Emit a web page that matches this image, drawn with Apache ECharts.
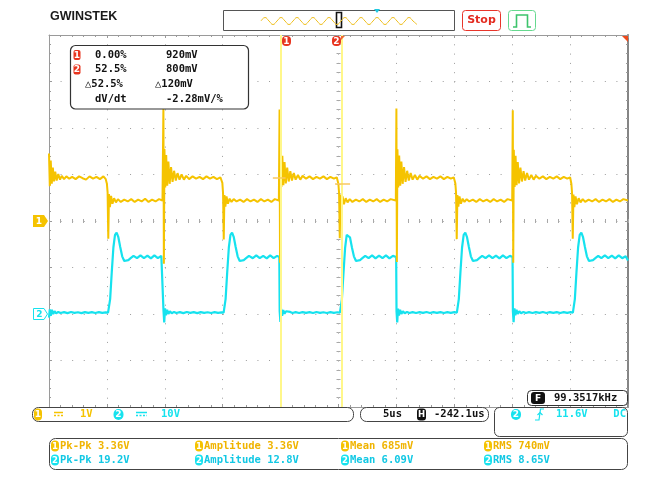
<!DOCTYPE html>
<html>
<head>
<meta charset="utf-8">
<script src="https://cdn.jsdelivr.net/npm/echarts@6/dist/echarts.min.js"></script>
<style>
html,body{margin:0;padding:0;background:#fff;}
#chart{width:662px;height:481px;}
</style>
</head>
<body>
<div id="chart"></div>
<script>
// ---- acquisition settings ----
const timeRange = [0, 50];          // us across 10 divisions (5 us/div)
const voltsPerDiv = [1, 10];        // CH1, CH2
const offsetDiv = [0, -2];          // ground marker position of each channel, in divisions

// ---- CH1 trace: [time us, volts] ----
const ch1Trace = [
  [0,1.45],[0.07,0.75],[0.15,1.3],[0.24,0.8],[0.33,1.15],[0.43,0.85],[0.54,1.06],[0.66,0.87],[0.8,1.01],[0.95,0.89],[1.1,0.97],[1.3,0.9],[1.5,0.96],[1.75,0.91],[2.0,0.95],[2.3,0.9],[2.6,0.96],[2.9,0.92],[3.2,0.89],[3.5,0.96],[3.8,0.91],[4.1,0.95],[4.4,0.9],[4.7,0.96],[4.9,0.9],
  [5.0,0.8],[5.06,0.62],[5.12,-0.38],[5.18,0.58],[5.26,0.3],[5.36,0.54],[5.48,0.37],[5.62,0.49],[5.78,0.4],[5.95,0.47],[6.2,0.41],[6.5,0.46],[6.8,0.42],[7.1,0.47],[7.4,0.41],[7.7,0.46],[8.0,0.42],[8.3,0.48],[8.6,0.41],[8.9,0.46],[9.2,0.42],[9.5,0.47],[9.8,0.44],
  [9.86,0.45],[9.88,2.45],[9.92,-0.92],[9.97,1.55],[10.04,0.72],[10.12,1.42],[10.21,0.76],[10.31,1.28],[10.42,0.8],[10.54,1.16],[10.67,0.84],[10.8,1.08],[10.95,0.87],[11.1,1.03],[11.27,0.89],[11.45,1.0],[11.65,0.89],[11.85,0.97],[12.1,0.9],[12.4,0.96],[12.7,0.91],[13.0,0.95],[13.3,0.9],[13.6,0.96],[13.9,0.91],[14.2,0.95],[14.5,0.9],[14.8,0.94],
  [14.97,0.82],[15.03,0.6],[15.09,-0.4],[15.15,0.56],[15.23,0.31],[15.33,0.53],[15.45,0.37],[15.6,0.48],[15.76,0.41],[15.95,0.47],[16.2,0.42],[16.5,0.46],[16.8,0.41],[17.1,0.47],[17.4,0.42],[17.7,0.46],[18.0,0.41],[18.3,0.47],[18.6,0.42],[18.9,0.46],[19.2,0.41],[19.5,0.47],[19.85,0.44],
  [19.89,0.45],[19.91,2.4],[19.95,-0.9],[20.0,1.52],[20.07,0.73],[20.15,1.4],[20.24,0.77],[20.34,1.27],[20.45,0.81],[20.57,1.15],[20.7,0.85],[20.84,1.07],[20.98,0.87],[21.14,1.03],[21.3,0.89],[21.5,0.99],[21.7,0.89],[21.9,0.97],[22.2,0.91],[22.5,0.96],[22.8,0.9],[23.1,0.95],[23.4,0.91],[23.7,0.96],[24.0,0.9],[24.3,0.95],[24.6,0.91],[24.85,0.94],
  [24.99,0.8],[25.05,0.6],[25.11,-0.37],[25.17,0.57],[25.25,0.3],[25.35,0.53],[25.47,0.36],[25.62,0.49],[25.78,0.4],[25.97,0.47],[26.2,0.41],[26.5,0.46],[26.8,0.42],[27.1,0.47],[27.4,0.41],[27.7,0.46],[28.0,0.42],[28.3,0.47],[28.6,0.41],[28.9,0.46],[29.2,0.42],[29.5,0.47],[29.95,0.44],
  [29.98,0.45],[30.0,2.42],[30.04,-0.88],[30.09,1.54],[30.16,0.72],[30.24,1.41],[30.33,0.76],[30.43,1.28],[30.54,0.8],[30.66,1.16],[30.79,0.84],[30.93,1.08],[31.07,0.87],[31.23,1.03],[31.4,0.89],[31.6,0.99],[31.8,0.89],[32.0,0.97],[32.3,0.91],[32.6,0.96],[32.9,0.9],[33.2,0.95],[33.5,0.91],[33.8,0.96],[34.1,0.9],[34.4,0.95],[34.7,0.91],[34.95,0.94],
  [35.09,0.81],[35.15,0.61],[35.21,-0.39],[35.27,0.56],[35.35,0.31],[35.45,0.53],[35.57,0.37],[35.72,0.48],[35.88,0.41],[36.07,0.47],[36.3,0.42],[36.6,0.46],[36.9,0.41],[37.2,0.47],[37.5,0.42],[37.8,0.46],[38.1,0.41],[38.4,0.47],[38.7,0.42],[39.0,0.46],[39.3,0.41],[39.6,0.47],[40.0,0.44],
  [40.03,0.45],[40.05,2.38],[40.09,-0.9],[40.14,1.53],[40.21,0.73],[40.29,1.4],[40.38,0.77],[40.48,1.27],[40.59,0.81],[40.71,1.15],[40.84,0.85],[40.98,1.07],[41.12,0.87],[41.28,1.03],[41.45,0.89],[41.65,0.99],[41.85,0.89],[42.05,0.97],[42.35,0.91],[42.65,0.96],[42.95,0.9],[43.25,0.95],[43.55,0.91],[43.85,0.96],[44.15,0.9],[44.45,0.95],[44.75,0.91],[45.0,0.94],
  [45.11,0.8],[45.17,0.6],[45.23,-0.38],[45.29,0.57],[45.37,0.3],[45.47,0.53],[45.59,0.36],[45.74,0.49],[45.9,0.4],[46.09,0.47],[46.3,0.41],[46.6,0.46],[46.9,0.42],[47.2,0.47],[47.5,0.41],[47.8,0.46],[48.1,0.42],[48.4,0.47],[48.7,0.41],[49.0,0.46],[49.3,0.42],[49.6,0.47],[50.0,0.44]
];

// ---- CH2 trace: [time us, volts] ----
const ch2Trace = [
  [0,-0.8],[0.07,1.0],[0.15,-0.4],[0.25,0.9],[0.36,0.0],[0.48,0.6],[0.62,0.15],[0.8,0.45],[1.0,0.22],[1.3,0.4],[1.6,0.2],[1.9,0.42],[2.2,0.24],[2.5,0.38],[2.8,0.2],[3.1,0.41],[3.4,0.24],[3.7,0.39],[4.0,0.22],[4.3,0.4],[4.6,0.24],[4.9,0.36],[5.1,0.3],
  [5.16,0.4],[5.28,3.2],[5.42,9.0],[5.56,14.3],[5.7,17.0],[5.84,17.5],[5.98,16.6],[6.15,14.4],[6.32,12.4],[6.5,11.4],[6.66,11.2],[6.85,11.6],[7.05,12.0],[7.3,12.5],[7.6,12.0],[7.9,12.6],[8.2,12.0],[8.5,12.55],[8.8,11.95],[9.1,12.6],[9.4,12.0],[9.7,12.5],[9.86,12.25],
  [9.89,0.6],[9.95,-1.8],[10.02,1.2],[10.1,-0.3],[10.2,0.9],[10.31,0.0],[10.44,0.6],[10.6,0.15],[10.8,0.45],[11.0,0.22],[11.3,0.41],[11.6,0.2],[11.9,0.42],[12.2,0.23],[12.5,0.39],[12.8,0.2],[13.1,0.41],[13.4,0.24],[13.7,0.38],[14.0,0.21],[14.3,0.4],[14.6,0.24],[14.9,0.36],[15.08,0.3],
  [15.13,0.4],[15.25,3.2],[15.39,9.0],[15.53,14.3],[15.67,17.0],[15.81,17.5],[15.95,16.6],[16.12,14.4],[16.29,12.4],[16.47,11.4],[16.63,11.2],[16.82,11.6],[17.02,12.0],[17.27,12.5],[17.6,12.0],[17.9,12.6],[18.2,12.0],[18.5,12.5],[18.8,11.95],[19.1,12.6],[19.4,12.0],[19.7,12.5],[19.89,12.25],
  [19.92,0.6],[19.98,-1.7],[20.05,1.1],[20.13,-0.4],[20.23,0.85],[20.34,0.05],[20.47,0.6],[20.63,0.18],[20.83,0.44],[21.03,0.22],[21.3,0.4],[21.6,0.21],[21.9,0.41],[22.2,0.23],[22.5,0.39],[22.8,0.21],[23.1,0.42],[23.4,0.23],[23.7,0.38],[24.0,0.22],[24.3,0.41],[24.6,0.23],[24.9,0.37],[25.12,0.3],
  [25.17,0.4],[25.29,3.1],[25.43,8.8],[25.57,14.2],[25.71,17.0],[25.85,17.4],[25.99,16.5],[26.16,14.3],[26.33,12.4],[26.51,11.4],[26.67,11.2],[26.86,11.6],[27.06,12.0],[27.31,12.5],[27.6,12.0],[27.9,12.6],[28.2,11.95],[28.5,12.55],[28.8,12.0],[29.1,12.6],[29.4,11.95],[29.7,12.5],[29.98,12.25],
  [30.01,0.6],[30.07,-1.8],[30.14,1.15],[30.22,-0.35],[30.32,0.9],[30.43,0.0],[30.56,0.6],[30.72,0.15],[30.92,0.45],[31.12,0.22],[31.4,0.41],[31.7,0.21],[32.0,0.4],[32.3,0.23],[32.6,0.42],[32.9,0.21],[33.2,0.39],[33.5,0.24],[33.8,0.41],[34.1,0.22],[34.4,0.39],[34.7,0.23],[35.0,0.4],[35.22,0.3],
  [35.27,0.4],[35.39,3.2],[35.53,9.0],[35.67,14.3],[35.81,17.0],[35.95,17.5],[36.09,16.6],[36.26,14.4],[36.43,12.4],[36.61,11.4],[36.77,11.2],[36.96,11.6],[37.16,12.0],[37.41,12.5],[37.7,12.0],[38.0,12.6],[38.3,12.0],[38.6,12.55],[38.9,11.95],[39.2,12.6],[39.5,12.0],[39.8,12.5],[40.03,12.25],
  [40.06,0.6],[40.12,-1.75],[40.19,1.2],[40.27,-0.3],[40.37,0.9],[40.48,0.0],[40.61,0.6],[40.77,0.15],[40.97,0.45],[41.17,0.22],[41.45,0.41],[41.75,0.21],[42.05,0.4],[42.35,0.23],[42.65,0.42],[42.95,0.21],[43.25,0.39],[43.55,0.24],[43.85,0.41],[44.15,0.22],[44.45,0.39],[44.75,0.23],[45.05,0.4],[45.24,0.3],
  [45.29,0.4],[45.41,3.2],[45.55,9.0],[45.69,14.3],[45.83,17.0],[45.97,17.5],[46.11,16.6],[46.28,14.4],[46.45,12.4],[46.63,11.4],[46.79,11.2],[46.98,11.6],[47.18,12.0],[47.43,12.5],[47.7,12.0],[48.0,12.6],[48.3,12.0],[48.6,12.55],[48.9,11.95],[49.2,12.6],[49.5,12.0],[49.8,12.4],[50.0,11.5]
];

// ---- cursors (time us, CH1 level V) ----
const cursorTimes = [20.03, 25.3];
const cursorLevels = [0.92, 0.80];
const cursorReadout = [
  ['0.00%', '920mV'],
  ['52.5%', '800mV']
];
const cursorDelta = ['\u25b352.5%', '\u25b3120mV'];
const cursorSlope = ['dV/dt', '-2.28mV/%'];

// ---- status / measurements ----
const ch1Status = '1V';
const ch2Status = '10V';
const timebase = '5us';
const hPosition = '-242.1us';
const triggerLevel = '11.6V';
const triggerCoupling = 'DC';
const frequency = '99.3517kHz';
const measNames = ['Pk-Pk', 'Amplitude', 'Mean', 'RMS'];
const ch1Meas = ['3.36V', '3.36V', '685mV', '740mV'];
const ch2Meas = ['19.2V', '12.8V', '6.09V', '8.65V'];

// overview waveform glyph in the top bar (peak / trough points)
const overviewWave = [[261,21],[265,17.5],[269,21],[273,24.5],[277,21],[281,17.5],[285,21],[289,24.5],[293,21],[297,17.5],[301,21],[305,24.5],[309,21],[313,17.5],[317,21],[321,24.5],[325,21],[329,17.5],[333,21],[337,24.5],[341,21],[345,17.5],[349,21],[353,24.5],[357,21],[361,17.5],[365,21],[369,24.5],[373,21],[377,17.5],[381,21],[385,24.5],[389,21],[393,17.5],[397,21],[401,24.5],[405,21],[409,17.5],[413,21],[417,24.5]];

const CH1 = '#f5c300', CH2 = '#16e2ee';
const MONO = '"DejaVu Sans Mono"';
const GRID = {left: 49, top: 35, width: 579, height: 372};

function toDiv(trace, ch) {
  return trace.map(p => [p[0], p[1] / voltsPerDiv[ch] + offsetDiv[ch]]);
}

function txt(x, y, s, color, size, align, weight) {
  return {type: 'text', z: 110, silent: true,
    style: {text: s, x: x, y: y, fill: color, font: (weight || 'bold') + ' ' + size + 'px ' + MONO,
      textAlign: align || 'left', textVerticalAlign: 'middle'}};
}
function box(x, y, w, h, r, stroke, fill, lw) {
  return {type: 'rect', z: 100, silent: true, shape: {x: x, y: y, width: w, height: h, r: r},
    style: {fill: fill || 'rgba(0,0,0,0)', stroke: stroke, lineWidth: lw || 1}};
}
function badge(cx, cy, w, h, r, fill, label, color, size) {
  return [
    {type: 'rect', z: 105, silent: true, shape: {x: cx - w / 2, y: cy - h / 2, width: w, height: h, r: r}, style: {fill: fill}},
    {type: 'text', z: 106, silent: true, style: {text: label, x: cx, y: cy + 0.5, fill: color,
      font: 'bold ' + size + 'px "DejaVu Sans"', textAlign: 'center', textVerticalAlign: 'middle'}}
  ];
}
function line(pts, color, lw, dash) {
  return {type: 'polyline', z: 104, silent: true, shape: {points: pts},
    style: {stroke: color, lineWidth: lw, lineDash: dash || null, fill: null}};
}

function edgeAxisX(pos, withSplit) {
  return {type: 'value', position: pos, min: timeRange[0], max: timeRange[1], interval: 5,
    axisLine: {show: true, onZero: false, lineStyle: {color: '#9a9a9a', width: 1}},
    axisTick: {show: true, inside: true, length: 3, lineStyle: {color: '#9a9a9a'}},
    minorTick: {show: true, splitNumber: 5, length: 2, lineStyle: {color: '#9a9a9a'}},
    axisLabel: {show: false},
    splitLine: withSplit ? {show: true, lineStyle: {color: '#9c9c9c', width: 1, type: [1, 8.3]}} : {show: false}};
}
function edgeAxisY(pos, withSplit, color, width) {
  return {type: 'value', position: pos, min: -4, max: 4, interval: 1,
    axisLine: {show: true, onZero: false, lineStyle: {color: color || '#9a9a9a', width: width || 1}},
    axisTick: {show: true, inside: true, length: 3, lineStyle: {color: '#9a9a9a'}},
    minorTick: {show: true, splitNumber: 5, length: 2, lineStyle: {color: '#9a9a9a'}},
    axisLabel: {show: false},
    splitLine: withSplit ? {show: true, lineStyle: {color: '#9c9c9c', width: 1, type: [1, 10.58]}} : {show: false}};
}
// centre graticule ticks
function centreX(inside) {
  return {type: 'value', position: 'bottom', offset: -GRID.height / 2, min: timeRange[0], max: timeRange[1], interval: 5,
    axisLine: {show: false, onZero: false}, axisLabel: {show: false}, splitLine: {show: false},
    axisTick: {show: true, inside: inside, length: 2, lineStyle: {color: '#a8a8a8'}},
    minorTick: {show: true, splitNumber: 5, length: 2, lineStyle: {color: '#a8a8a8'}}};
}
function centreY(inside) {
  return {type: 'value', position: 'left', offset: -GRID.width / 2, min: -4, max: 4, interval: 1,
    axisLine: {show: false, onZero: false}, axisLabel: {show: false}, splitLine: {show: false},
    axisTick: {show: true, inside: inside, length: 2, lineStyle: {color: '#a8a8a8'}},
    minorTick: {show: true, splitNumber: 5, length: 2, lineStyle: {color: '#a8a8a8'}}};
}

const gfx = [];
// top bar
gfx.push({type: 'text', z: 110, silent: true, style: {text: 'GWINSTEK', x: 50, y: 17, fill: '#1a1a1a',
  font: 'bold 12.5px "Liberation Sans"', textVerticalAlign: 'middle'}});
gfx.push(box(223.5, 10.5, 231, 20, 0, '#555', '#fff', 1));
gfx.push({type: 'polyline', z: 104, silent: true, shape: {points: overviewWave, smooth: 0.5},
  style: {stroke: '#f0c020', lineWidth: 1, fill: null}});
gfx.push(box(336.5, 12.5, 5, 15, 0, '#111', '#fff', 1.6));
gfx.push({type: 'polygon', z: 105, silent: true, shape: {points: [[374, 9], [380, 9], [377, 13]]}, style: {fill: '#20c8e0'}});
gfx.push(box(462.5, 10.5, 38, 20, 3, '#e8352a', '#fff', 1));
gfx.push({type: 'text', z: 110, silent: true, style: {text: 'Stop', x: 481.5, y: 20.5, fill: '#e32b20',
  font: 'bold 11px "DejaVu Sans"', textAlign: 'center', textVerticalAlign: 'middle'}});
gfx.push(box(508.5, 10.5, 27, 20, 3, '#66d98f', '#fff', 1));
gfx.push(line([[513, 27], [516.5, 27], [516.5, 15], [527.5, 15], [527.5, 27], [531, 27]], '#3cc46c', 1.6));

// cursor readout panel
gfx.push(box(70.5, 45.5, 178, 63.5, 5, '#333', '#fff', 1.2));
const rowsY = [55, 69.5, 84, 99];
cursorReadout.forEach((r, i) => {
  badge(77, rowsY[i], 7, 10, 2, '#e8351f', String(i + 1), '#fff', 9).forEach(e => gfx.push(e));
  gfx.push(txt(95, rowsY[i], r[0], '#111', 10.5));
  gfx.push(txt(166, rowsY[i], r[1], '#111', 10.5));
});
gfx.push(txt(85, rowsY[2], cursorDelta[0], '#111', 10.5));
gfx.push(txt(155, rowsY[2], cursorDelta[1], '#111', 10.5));
gfx.push(txt(95, rowsY[3], cursorSlope[0], '#111', 10.5));
gfx.push(txt(166, rowsY[3], cursorSlope[1], '#111', 10.5));

// cursor tags at the top of the graticule
badge(286.5, 41, 9, 10, 4, '#e8351f', '1', '#fff', 9).forEach(e => gfx.push(e));
badge(336.5, 41, 9, 10, 4, '#e8351f', '2', '#fff', 9).forEach(e => gfx.push(e));
gfx.push({type: 'polygon', z: 105, silent: true, shape: {points: [[341, 36], [345, 36], [341, 40]]}, style: {fill: '#f06a30'}});
gfx.push({type: 'polygon', z: 105, silent: true, shape: {points: [[622, 36], [628, 36], [628, 42]]}, style: {fill: '#ee4a1c'}});

// channel ground markers
gfx.push({type: 'polygon', z: 105, silent: true, shape: {points: [[33, 215], [44, 215], [48, 221], [44, 227], [33, 227]]}, style: {fill: CH1}});
gfx.push({type: 'text', z: 106, silent: true, style: {text: '1', x: 39, y: 221.5, fill: '#fff', font: 'bold 9px "DejaVu Sans"', textAlign: 'center', textVerticalAlign: 'middle'}});
gfx.push({type: 'polygon', z: 105, silent: true, shape: {points: [[33.5, 308.5], [44, 308.5], [47.5, 314], [44, 319.5], [33.5, 319.5]]}, style: {fill: '#fff', stroke: CH2, lineWidth: 1}});
gfx.push({type: 'text', z: 106, silent: true, style: {text: '2', x: 39.5, y: 314.5, fill: CH2, font: 'bold 9px "DejaVu Sans"', textAlign: 'center', textVerticalAlign: 'middle'}});

// frequency counter
gfx.push(box(527.5, 390.5, 100, 15, 4, '#333', '#fff', 1));
badge(538, 398, 14, 12, 3, '#111', 'F', '#fff', 9).forEach(e => gfx.push(e));
gfx.push(txt(554, 398.5, frequency, '#111', 10.5));

// vertical status bar
gfx.push(box(32.5, 407.5, 321, 14, 6, '#444', '#fff', 1));
badge(38, 414.5, 8, 12, 4, CH1, '1', '#fff', 9).forEach(e => gfx.push(e));
gfx.push(line([[54, 412.5], [63, 412.5]], CH1, 1.5));
gfx.push(line([[54, 415.5], [63, 415.5]], CH1, 1.5, [2, 1.5]));
gfx.push(txt(80, 414.5, ch1Status, CH1, 10.5));
badge(118.5, 414.5, 10, 11, 5, CH2, '2', '#fff', 9).forEach(e => gfx.push(e));
gfx.push(line([[136, 412.5], [147, 412.5]], CH2, 1.5));
gfx.push(line([[136, 415.5], [147, 415.5]], CH2, 1.5, [2, 1.5]));
gfx.push(txt(161, 414.5, ch2Status, CH2, 10.5));

// horizontal status
gfx.push(box(360.5, 407.5, 128, 14, 6, '#444', '#fff', 1));
gfx.push(txt(383, 414.5, timebase, '#111', 10.5));
badge(421.5, 414.5, 9, 12, 3, '#111', 'H', '#fff', 8.5).forEach(e => gfx.push(e));
gfx.push(txt(434, 414.5, hPosition, '#111', 10.5));

// trigger status
gfx.push(box(494.5, 407.5, 133, 29, 5, '#444', '#fff', 1));
badge(516, 414.5, 10, 11, 5, CH2, '2', '#fff', 9).forEach(e => gfx.push(e));
gfx.push(line([[535, 420], [539, 420], [540.5, 409], [544, 409]], CH2, 1.2));
gfx.push(line([[537.5, 415], [540, 412.5], [542.5, 415]], CH2, 1.2));
gfx.push(txt(556, 414.5, triggerLevel, CH2, 10.5));
gfx.push(txt(626, 414.5, triggerCoupling, CH2, 10.5, 'right'));

// measurement panel
gfx.push(box(49.5, 438.5, 578, 31, 6, '#444', '#fff', 1));
const measX = [51, 195, 341, 484];
const measY = [446, 460];
[[ch1Meas, CH1, '1'], [ch2Meas, CH2, '2']].forEach((m, row) => {
  measNames.forEach((name, i) => {
    badge(measX[i] + 4, measY[row], 8, 11, 4, m[1], m[2], '#fff', 8.5).forEach(e => gfx.push(e));
    gfx.push(txt(measX[i] + 9, measY[row], name + ' ' + m[0][i], m[1] === CH1 ? '#f0b400' : '#12c8e4', 10.5));
  });
});

const chart = echarts.init(document.getElementById('chart'), null, {renderer: 'canvas'});
chart.setOption({
  animation: false,
  backgroundColor: '#ffffff',
  grid: {left: GRID.left, top: GRID.top, width: GRID.width, height: GRID.height, containLabel: false},
  xAxis: [edgeAxisX('bottom', true), edgeAxisX('top', false), centreX(true), centreX(false)],
  yAxis: [edgeAxisY('left', true), edgeAxisY('right', false, '#858585', 2), centreY(true), centreY(false)],
  series: [
    {name: 'CH2', type: 'line', xAxisIndex: 0, yAxisIndex: 0, data: toDiv(ch2Trace, 1),
      showSymbol: false, silent: true, z: 3,
      lineStyle: {color: CH2, width: 2.2}},
    {name: 'CH1', type: 'line', xAxisIndex: 0, yAxisIndex: 0, data: toDiv(ch1Trace, 0),
      showSymbol: false, silent: true, z: 4,
      lineStyle: {color: CH1, width: 2},
      markLine: {silent: true, symbol: ['none', 'none'], label: {show: false}, animation: false,
        data: [
          {xAxis: cursorTimes[0], lineStyle: {color: '#fff78a', width: 2, type: 'solid'}},
          {xAxis: cursorTimes[1], lineStyle: {color: '#fff78a', width: 2, type: 'solid'}},
          [{coord: [cursorTimes[0] - 0.7, cursorLevels[0] / voltsPerDiv[0] + offsetDiv[0]], lineStyle: {color: '#f8c860', width: 1.5, type: 'solid'}},
           {coord: [cursorTimes[0] + 0.4, cursorLevels[0] / voltsPerDiv[0] + offsetDiv[0]]}],
          [{coord: [cursorTimes[1] - 0.6, cursorLevels[1] / voltsPerDiv[0] + offsetDiv[0]], lineStyle: {color: '#f8c860', width: 1.5, type: 'solid'}},
           {coord: [cursorTimes[1] + 0.7, cursorLevels[1] / voltsPerDiv[0] + offsetDiv[0]]}]
        ]}}
  ],
  graphic: {elements: gfx}
});
</script>
</body>
</html>
